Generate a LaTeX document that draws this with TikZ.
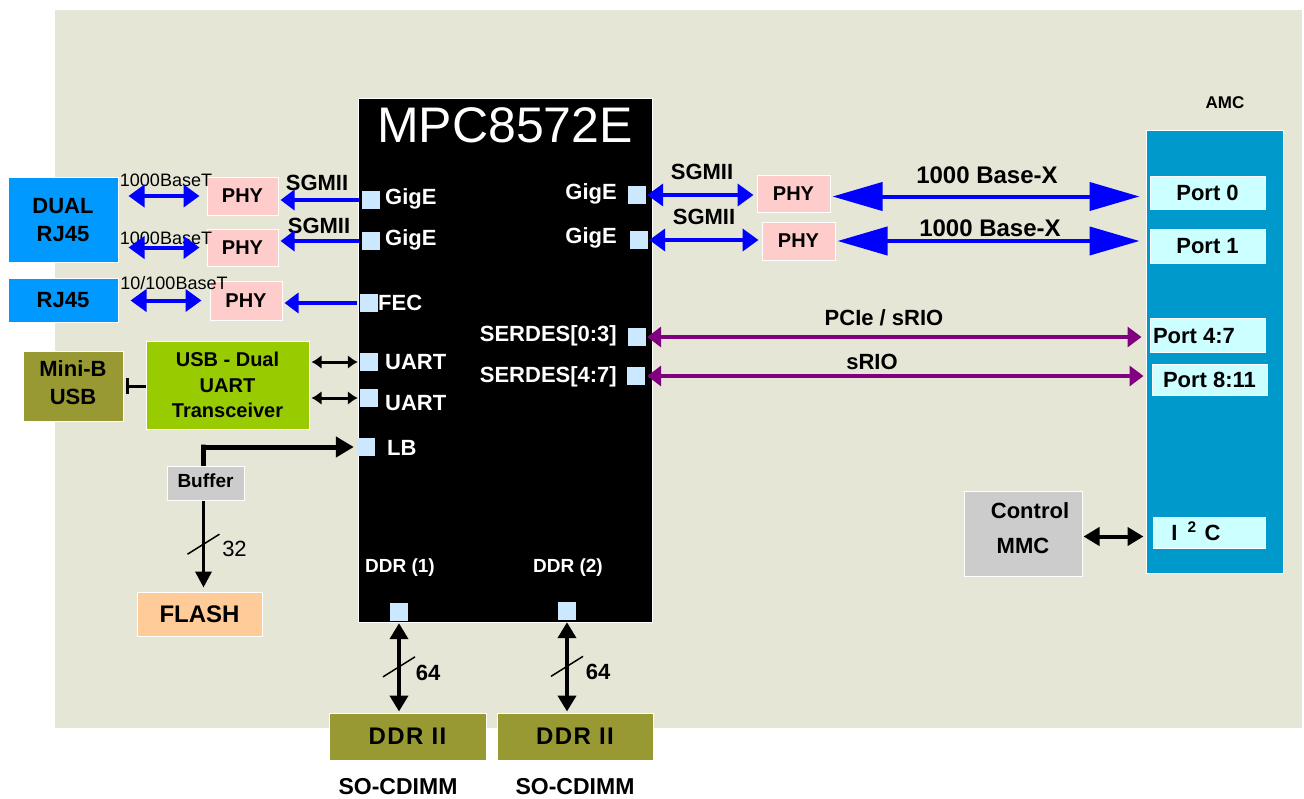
\documentclass[tikz,border=0pt]{standalone}
\usepackage{fontspec}
\setmainfont{Liberation Sans}
\usetikzlibrary{arrows.meta,calc}
\definecolor{bgc}{HTML}{E6E6D6}
\definecolor{rjblue}{HTML}{0099FF}
\definecolor{amcblue}{HTML}{0099CC}
\definecolor{portc}{HTML}{CCFFFF}
\definecolor{pinc}{HTML}{CCE8FF}
\definecolor{phyc}{HTML}{FFCCCC}
\definecolor{usbgreen}{HTML}{99CC00}
\definecolor{olive}{HTML}{999933}
\definecolor{grayc}{HTML}{CCCCCC}
\definecolor{flashc}{HTML}{FFCC99}
\definecolor{arrblue}{HTML}{0000FF}
\definecolor{purp}{HTML}{800080}
\newcommand\myfs[2]{\fontsize{#1}{#2}\selectfont}
\begin{document}
\begin{tikzpicture}[x=1pt,y=-1pt,
  box/.style={draw=white,line width=1pt,inner sep=0pt,align=center,font=\bfseries\myfs{20}{24}},
  pin/.style={fill=pinc,minimum width=18pt,minimum height=18pt,inner sep=0pt},
  wt/.style={text=white,font=\bfseries\myfs{22}{26},inner sep=0pt},
  lbl/.style={inner sep=0pt,font=\bfseries\myfs{22}{26}},
  thinlbl/.style={inner sep=0pt,font=\myfs{18}{21}},
  bluedbl/.style={draw=arrblue,line width=4pt,{Triangle[length=16pt,width=22pt]}-{Triangle[length=16pt,width=22pt]}},
  bigblue/.style={draw=arrblue,line width=4pt,{Triangle[length=50pt,width=28pt]}-{Triangle[length=50pt,width=28pt]}},
  bluesgl/.style={draw=arrblue,line width=4pt,-{Triangle[length=14pt,width=20pt]}},
  purparr/.style={draw=purp,line width=4pt,{Triangle[length=14pt,width=20pt]}-{Triangle[length=14pt,width=20pt]}},
  blkdbl/.style={draw=black,line width=4pt,{Triangle[length=16pt,width=18pt]}-{Triangle[length=16pt,width=18pt]}},
  blkthin/.style={draw=black,line width=3pt,{Latex[length=10pt,width=14pt]}-{Latex[length=10pt,width=14pt]}},
  slash/.style={draw=black,line width=1.5pt}
]
\useasboundingbox (0,0) rectangle (1304,798);
\fill[white] (0,0) rectangle (1304,798);
\fill[bgc] (55,10) rectangle (1302,728);

% left side boxes
\node[box,fill=rjblue,minimum width=110pt,minimum height=85pt,font=\bfseries\myfs{22}{28},text depth=-10pt] (dual) at (63,219.5) {DUAL\\RJ45};
\node[box,fill=rjblue,minimum width=110pt,minimum height=44pt,font=\bfseries\myfs{22}{28}] (rj45) at (63,300) {RJ45};
\node[box,fill=phyc,minimum width=71pt,minimum height=38pt] (phy1) at (242.5,196) {PHY};
\node[box,fill=phyc,minimum width=71pt,minimum height=37pt] (phy2) at (242.5,247.5) {PHY};
\node[box,fill=phyc,minimum width=72pt,minimum height=39pt] (phy3) at (246,300.5) {PHY};
\node[box,fill=olive,minimum width=100pt,minimum height=70pt,font=\bfseries\myfs{22}{28},text depth=6pt] (minib) at (73,386) {Mini-B\\USB};
\node[box,fill=usbgreen,minimum width=163pt,minimum height=88pt,font=\bfseries\myfs{20}{25.5},text depth=-10pt] (usb) at (227.5,385) {USB - Dual\\UART\\Transceiver};
\node[box,fill=grayc,minimum width=77pt,minimum height=34pt,font=\bfseries\myfs{19}{22},text depth=5pt] (buffer) at (205.5,483) {Buffer};
\node[box,fill=flashc,minimum width=125pt,minimum height=44pt,font=\bfseries\myfs{24}{28}] (flash) at (199.5,614) {FLASH};

% chip
\node[box,fill=black,minimum width=294pt,minimum height=524pt] (chip) at (505,360) {};
\node[wt,font=\myfs{50}{56}] (title) at (505,125) {MPC8572E};
\node[pin] (pG1) at (371,200) {};
\node[pin] (pG2) at (371,241) {};
\node[pin] (pFEC) at (369,303) {};
\node[pin] (pU1) at (369,362) {};
\node[pin] (pU2) at (369,398) {};
\node[pin] (pLB) at (366,447) {};
\node[pin] (pG3) at (637,195) {};
\node[pin] (pG4) at (639,240) {};
\node[pin] (pS03) at (637,337) {};
\node[pin] (pS47) at (636,376) {};
\node[pin] (pD1) at (399,612) {};
\node[pin] (pD2) at (567,611) {};
\node[wt,anchor=west] (tG1) at (385,199) {GigE};
\node[wt,anchor=west] (tG2) at (385,240) {GigE};
\node[wt,anchor=west] (tFEC) at (378,303) {FEC};
\node[wt,anchor=west] (tU1) at (385,362) {UART};
\node[wt,anchor=west] (tU2) at (385,403) {UART};
\node[wt,anchor=west] (tLB) at (387,448) {LB};
\node[wt,anchor=east] (tG3) at (617,194) {GigE};
\node[wt,anchor=east] (tG4) at (617,238) {GigE};
\node[wt,anchor=east] (tS03) at (617,336) {SERDES[0:3]};
\node[wt,anchor=east] (tS47) at (617,377) {SERDES[4:7]};
\node[wt,font=\bfseries\myfs{19}{22}] (tD1) at (400,568) {DDR (1)};
\node[wt,font=\bfseries\myfs{19}{22}] (tD2) at (568,568) {DDR (2)};

% right side
\node[box,fill=phyc,minimum width=73pt,minimum height=37pt] (rphy1) at (793.5,193.5) {PHY};
\node[box,fill=phyc,minimum width=73pt,minimum height=38pt] (rphy2) at (798.5,241) {PHY};
\node[lbl,font=\bfseries\myfs{17}{20}] (amct) at (1225,103) {AMC};
\node[box,fill=amcblue,minimum width=137pt,minimum height=443pt] (amc) at (1214.5,351.5) {};
\node[box,fill=portc,minimum width=115pt,minimum height=33pt,font=\bfseries\myfs{22}{26}] (port0) at (1207.5,192.5) {Port 0};
\node[box,fill=portc,minimum width=115pt,minimum height=34pt,font=\bfseries\myfs{22}{26}] (port1) at (1207.5,246) {Port 1};
\node[box,fill=portc,minimum width=115pt,minimum height=34pt] (port47) at (1207.5,335) {};
\node[lbl] (t47) at (1194,336) {Port 4:7};
\node[box,fill=portc,minimum width=115pt,minimum height=31pt,font=\bfseries\myfs{22}{26}] (port811) at (1209.5,379.5) {Port 8:11};
\node[box,fill=portc,minimum width=112pt,minimum height=31pt] (i2c) at (1209,532.5) {};
\node[lbl] (ti2c) at (1196,531) {I\hspace{10pt}\textsuperscript{2}\hspace{8pt}C};
\node[box,fill=grayc,minimum width=118pt,minimum height=85pt,font=\bfseries\myfs{22}{35},text depth=10pt] (mmc) at (1023,533.5) {\hspace*{14pt}Control\\MMC};

% bottom
\node[box,fill=olive,minimum width=157pt,minimum height=47pt,font=\bfseries\myfs{24}{26}\addfontfeature{LetterSpace=6}] (ddr1) at (407.5,736.5) {DDR II};
\node[box,fill=olive,minimum width=156pt,minimum height=47pt,font=\bfseries\myfs{24}{26}\addfontfeature{LetterSpace=6}] (ddr2) at (575,736.5) {DDR II};
\node[lbl,font=\bfseries\myfs{23}{26}] (so1) at (398,787) {SO-CDIMM};
\node[lbl,font=\bfseries\myfs{23}{26}] (so2) at (575,787) {SO-CDIMM};

% labels
\node[thinlbl] (l1) at (166,180) {1000BaseT};
\node[thinlbl] (l2) at (166,238) {1000BaseT};
\node[thinlbl] (l3) at (174,283) {10/100BaseT};
\node[lbl] (s1) at (317,183) {SGMII};
\node[lbl] (s2) at (319,226) {SGMII};
\node[lbl] (s3) at (702,172) {SGMII};
\node[lbl] (s4) at (704,217) {SGMII};
\node[lbl,font=\bfseries\myfs{24}{27}] (bx1) at (987,175) {1000 Base-X};
\node[lbl,font=\bfseries\myfs{24}{27}] (bx2) at (990,228) {1000 Base-X};
\node[lbl] (pc) at (884,318) {PCIe / sRIO};
\node[lbl] (sr) at (872,362) {sRIO};

% connectors left
\draw[bluedbl,shorten <=10pt,shorten >=7pt] (dual.east |- phy1.west) -- (phy1.west);
\draw[bluedbl,shorten <=10pt,shorten >=7pt] (dual.east |- phy2.west) -- (phy2.west);
\draw[bluedbl,shorten <=12pt,shorten >=8pt] (rj45.east |- phy3.west) -- (phy3.west);
\draw[bluesgl,shorten <=3pt,shorten >=2pt] (pG1.west) -- (pG1.west -| phy1.east);
\draw[bluesgl,shorten <=3pt,shorten >=2pt] (pG2.west) -- (pG2.west -| phy2.east);
\draw[bluesgl,shorten <=3pt,shorten >=2pt] (pFEC.west) -- (pFEC.west -| phy3.east);
\draw[draw=black,line width=3pt,{Bar[width=16pt,line width=3pt]}-,shorten <=2pt] (minib.east) -- (minib.east -| usb.west);
\draw[blkthin,shorten <=2pt,shorten >=2pt] (usb.east |- pU1.west) -- (pU1.west);
\draw[blkthin,shorten <=2pt,shorten >=2pt] (usb.east |- pU2.west) -- (pU2.west);
\draw[draw=black,line width=5pt,-{Triangle[length=18pt,width=20pt]},shorten >=3pt] ([xshift=-2pt]buffer.north) -- ++(0,-21) coordinate (lbc) |- (pLB.west);
\draw[draw=black,line width=3.5pt,-{Triangle[length=16pt,width=16pt]},shorten >=4pt] ([xshift=-2pt]buffer.south) -- ([xshift=-2pt]buffer.south |- flash.north) coordinate[pos=0.48] (m32);
\draw[slash] ($(m32)+(-16,10)$) -- ($(m32)+(16,-10)$);
\node[inner sep=0pt,font=\myfs{22}{26}] (n32) at ($(m32)+(31,5)$) {32};

% connectors right
\draw[bluedbl,shorten <=1pt,shorten >=3pt] (pG3.east) -- (pG3.east -| rphy1.west);
\draw[bluedbl,shorten <=1pt,shorten >=3pt] (pG4.east) -- (pG4.east -| rphy2.west);
\draw[bigblue,shorten <=2pt,shorten >=10pt] ([yshift=-3pt]rphy1.east) -- ([yshift=-3pt]rphy1.east -| port0.west);
\draw[bigblue,shorten <=2pt,shorten >=10pt] (rphy2.east) -- (rphy2.east -| port1.west);
\draw[purparr,shorten <=1pt,shorten >=8pt] (pS03.east) -- (pS03.east -| port47.west);
\draw[purparr,shorten <=2pt,shorten >=8pt] (pS47.east) -- (pS47.east -| port811.west);
\draw[blkdbl,shorten <=1pt,shorten >=2pt] ([yshift=-3pt]mmc.east) -- ([yshift=-3pt]mmc.east -| amc.west);

% DDR connectors
\draw[blkdbl,shorten <=2pt,shorten >=1pt] (pD1.south) -- (pD1.south |- ddr1.north) coordinate[pos=0.5] (m64a);
\draw[blkdbl,shorten <=2pt,shorten >=1pt] (pD2.south) -- (pD2.south |- ddr2.north) coordinate[pos=0.5] (m64b);
\draw[slash] ($(m64a)+(-16,10)$) -- ($(m64a)+(16,-10)$);
\draw[slash] ($(m64b)+(-16,10)$) -- ($(m64b)+(16,-10)$);
\node[inner sep=0pt,font=\bfseries\myfs{22}{25}] (n64a) at ($(m64a)+(29,6)$) {64};
\node[inner sep=0pt,font=\bfseries\myfs{22}{25}] (n64b) at ($(m64b)+(31,6)$) {64};
\end{tikzpicture}
\end{document}
